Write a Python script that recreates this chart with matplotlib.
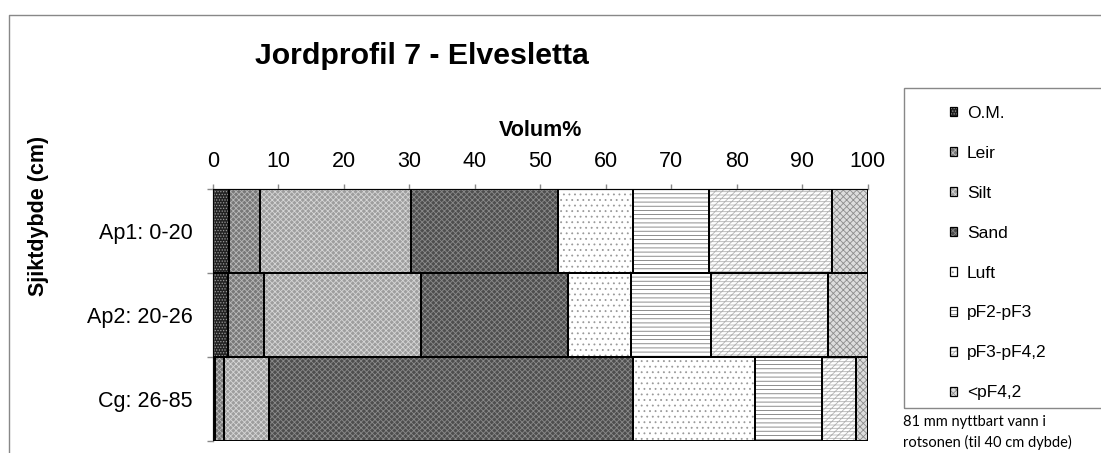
import matplotlib
matplotlib.use("Agg")
import matplotlib.pyplot as plt
from matplotlib.lines import Line2D
from matplotlib.patches import Rectangle, Patch
from matplotlib.legend_handler import HandlerTuple
import numpy as np

categories = ['Ap1: 0-20', 'Ap2: 20-26', 'Cg: 26-85']
series_names = ['O.M.', 'Leir', 'Silt', 'Sand', 'Luft', 'pF2-pF3', 'pF3-pF4,2', '<pF4,2']
om = [2.5, 2.4, 0.3]
leir = [4.7, 5.4, 1.5]
silt = [23.1, 24.0, 6.8]
sand = [22.4, 22.5, 55.6]
luft = [11.5, 9.6, 18.6]
pf2_pf3 = [11.6, 12.2, 10.2]
pf3_pf42 = [18.8, 17.8, 5.2]
lt_pf42 = [5.4, 6.1, 1.8]
series_values = [om, leir, silt, sand, luft, pf2_pf3, pf3_pf42, lt_pf42]
xticks = [0, 10, 20, 30, 40, 50, 60, 70, 80, 90, 100]

# styles: (facecolor, hatch, hatchcolor)
styles = [
    ('#222222', '......', '#9a9a9a'),
    ('#787878', 'xxxxxx', '#b8b8b8'),
    ('#9e9e9e', 'xxxxxx', '#d6d6d6'),
    ('#4e4e4e', 'xxxxxx', '#8a8a8a'),
    ('#ffffff', '...', '#9a9a9a'),
    ('#ffffff', '----', '#7a7a7a'),
    ('#ffffff', '/////-----', '#b4b4b4'),
    ('#dcdcdc', 'xxxxx', '#8c8c8c'),
]

plt.rcParams['font.family'] = ['Liberation Sans', 'DejaVu Sans']
plt.rcParams['hatch.linewidth'] = 0.6

W, H = 1101, 453
fig = plt.figure(figsize=(W / 100, H / 100), dpi=100)
ax_l, ax_r = 212.7 / W, 867.7 / W
ax_t, ax_b = 1 - 188.5 / H, 1 - 441 / H
ax = fig.add_axes([ax_l, ax_b, ax_r - ax_l, ax_t - ax_b])

y = np.arange(len(categories))
left = np.zeros(len(categories))
handles = []
for name, vals, (fc, hatch, hc) in zip(series_names, series_values, styles):
    ax.barh(y, vals, left=left, height=1.0, color=fc, hatch=hatch,
            edgecolor=hc, linewidth=0, zorder=2)
    ax.barh(y, vals, left=left, height=1.0, fill=False,
            edgecolor='black', linewidth=1.4, zorder=3)
    h_fill = Patch(facecolor=fc, hatch=hatch, edgecolor=hc, linewidth=0)
    h_out = Patch(fill=False, edgecolor='black', linewidth=0.9)
    handles.append((h_fill, h_out))
    left = left + np.array(vals)

ax.set_xlim(0, 100)
ax.set_ylim(len(categories) - 0.5, -0.5)
ax.xaxis.tick_top()
ax.set_xticks(xticks)
ax.set_xticklabels([str(t) for t in xticks])
ax.tick_params(axis='x', which='major', direction='out', length=3.6, width=1,
               color='#888888', labelsize=15.5, pad=8)
ax.set_yticks(y)
ax.set_yticklabels(categories)
ax.tick_params(axis='y', which='major', length=0, labelsize=15.5, pad=14.4)
ax.set_yticks(np.arange(-0.5, len(categories) + 0.5, 1.0), minor=True)
ax.tick_params(axis='y', which='minor', direction='out', length=4.3, width=1,
               color='#888888')
for s in ['right', 'bottom']:
    ax.spines[s].set_visible(False)
for s in ['top', 'left']:
    ax.spines[s].set_color('#888888')
    ax.spines[s].set_linewidth(1)

fig.text(422 / W, 1 - 63.5 / H, 'Jordprofil 7 - Elvesletta', ha='center',
         va='baseline', fontsize=21.8, fontweight='bold')
fig.text((ax_l + ax_r) / 2, 1 - 130 / H, 'Volum%', ha='center', va='center',
         fontsize=15.5, fontweight='bold')
fig.text(38.5 / W, 1 - 216 / H, 'Sjiktdybde (cm)', ha='center', va='center',
         rotation=90, fontsize=15.5, fontweight='bold')

# outer chart border (cropped at right and bottom)
fig.add_artist(Line2D([9 / W, 9 / W, 1.01], [-0.01, 1 - 15 / H, 1 - 15 / H],
                      transform=fig.transFigure, color='#888888', linewidth=1))
# legend frame (cropped at right)
fig.add_artist(Rectangle((904 / W, 1 - 408 / H), 0.2, (408 - 88) / H,
                         transform=fig.transFigure, fill=False,
                         edgecolor='#888888', linewidth=1))
fig.legend(handles, series_names, loc='upper left',
           bbox_to_anchor=(949.5 / W, 1 - 105.5 / H), frameon=False,
           fontsize=12.5, handlelength=0.45, handleheight=0.45,
           handletextpad=0.55, labelspacing=1.44, borderpad=0, borderaxespad=0,
           handler_map={tuple: HandlerTuple(ndivide=1, pad=0)})

fig.text(903 / W, 1 - 422 / H, '81 mm nyttbart vann i', ha='left', va='center',
         fontsize=10.5, family=['Lato', 'DejaVu Sans'])
fig.text(903 / W, 1 - 442 / H, 'rotsonen (til 40 cm dybde)', ha='left',
         va='center', fontsize=10.5, family=['Lato', 'DejaVu Sans'])

fig.savefig('out.png', dpi=100)
